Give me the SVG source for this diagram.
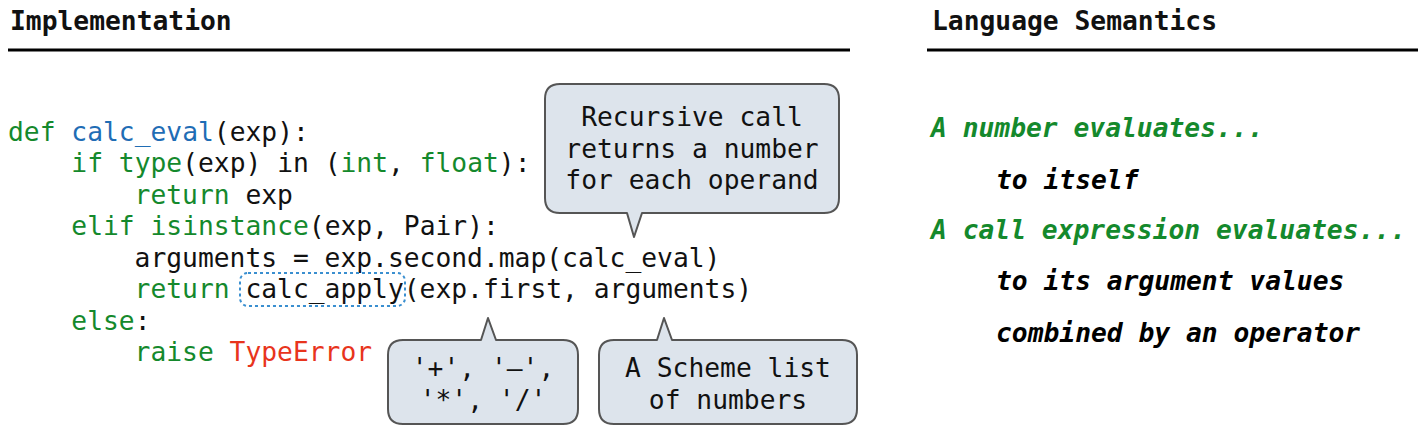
<svg xmlns="http://www.w3.org/2000/svg" width="1418" height="434" viewBox="0 0 1418 434">
<style>
text{font-family:"DejaVu Sans Mono","Liberation Mono",monospace;font-size:26.3px;fill:#111;}
.h{font-weight:bold;}
.k{fill:#14892c;}
.f{fill:#1f6db5;}
.r{fill:#e8341c;}
.g{fill:#14892c;font-weight:bold;font-style:italic;}
.b{font-weight:bold;font-style:italic;fill:#000;}
.call{fill:#dde4ec;stroke:#555;stroke-width:2;stroke-linejoin:round;}
.ct{text-anchor:middle;}
</style>
<g id="headers">
<text class="h" x="10" y="30">Implementation</text>
<line x1="8" y1="50" x2="850" y2="50" stroke="#000" stroke-width="3"/>
<text class="h" x="932" y="30">Language Semantics</text>
<line x1="927" y1="50" x2="1418" y2="50" stroke="#000" stroke-width="3"/>
</g>
<g id="code">
<text x="8" y="140.5"><tspan class="k">def</tspan> <tspan class="f">calc_eval</tspan>(exp):</text>
<text x="71.3" y="172"><tspan class="k">if</tspan> <tspan class="k">type</tspan>(exp) in (<tspan class="k">int</tspan>, <tspan class="k">float</tspan>):</text>
<text x="134.6" y="203.5"><tspan class="k">return</tspan> exp</text>
<text x="71.3" y="235"><tspan class="k">elif</tspan> <tspan class="k">isinstance</tspan>(exp, Pair):</text>
<text x="134.6" y="266.5">arguments = exp.second.map(calc_eval)</text>
<text x="134.6" y="298"><tspan class="k">return</tspan> calc_apply(exp.first, arguments)</text>
<text x="71.3" y="329.5"><tspan class="k">else</tspan>:</text>
<text x="134.6" y="361"><tspan class="k">raise</tspan> <tspan class="r">TypeError</tspan></text>
</g>
<g id="highlight">
<rect x="240" y="273" width="165" height="33" rx="8" fill="none" stroke="#3a8fd0" stroke-width="2" stroke-dasharray="3,3"/>
</g>
<g id="callout-recursive">
<path class="call" d="M560,84 H824 Q839,84 839,99 V198 Q839,213 824,213 H642 L634,237 L627,213 H560 Q545,213 545,198 V99 Q545,84 560,84 Z"/>
<text class="ct" x="692" y="126">Recursive call</text>
<text class="ct" x="692" y="158">returns a number</text>
<text class="ct" x="692" y="189">for each operand</text>
</g>
<g id="callout-ops">
<path class="call" d="M403,340 H481 L488,318 L496,340 H563 Q578,340 578,355 V409 Q578,424 563,424 H403 Q388,424 388,409 V355 Q388,340 403,340 Z"/>
<text class="ct" x="483" y="377">'+', '–',</text>
<text class="ct" x="483" y="409">'*', '/'</text>
</g>
<g id="callout-list">
<path class="call" d="M614,340 H657 L664,318 L672,340 H842 Q857,340 857,355 V409 Q857,424 842,424 H614 Q599,424 599,409 V355 Q599,340 614,340 Z"/>
<text class="ct" x="728" y="377">A Scheme list</text>
<text class="ct" x="728" y="409">of numbers</text>
</g>
<g id="semantics">
<text class="g" x="931" y="137">A number evaluates...</text>
<text class="b" x="996" y="189">to itself</text>
<text class="g" x="931" y="239">A call expression evaluates...</text>
<text class="b" x="996" y="290">to its argument values</text>
<text class="b" x="996" y="342">combined by an operator</text>
</g>
<g id="connectors"></g>
</svg>
